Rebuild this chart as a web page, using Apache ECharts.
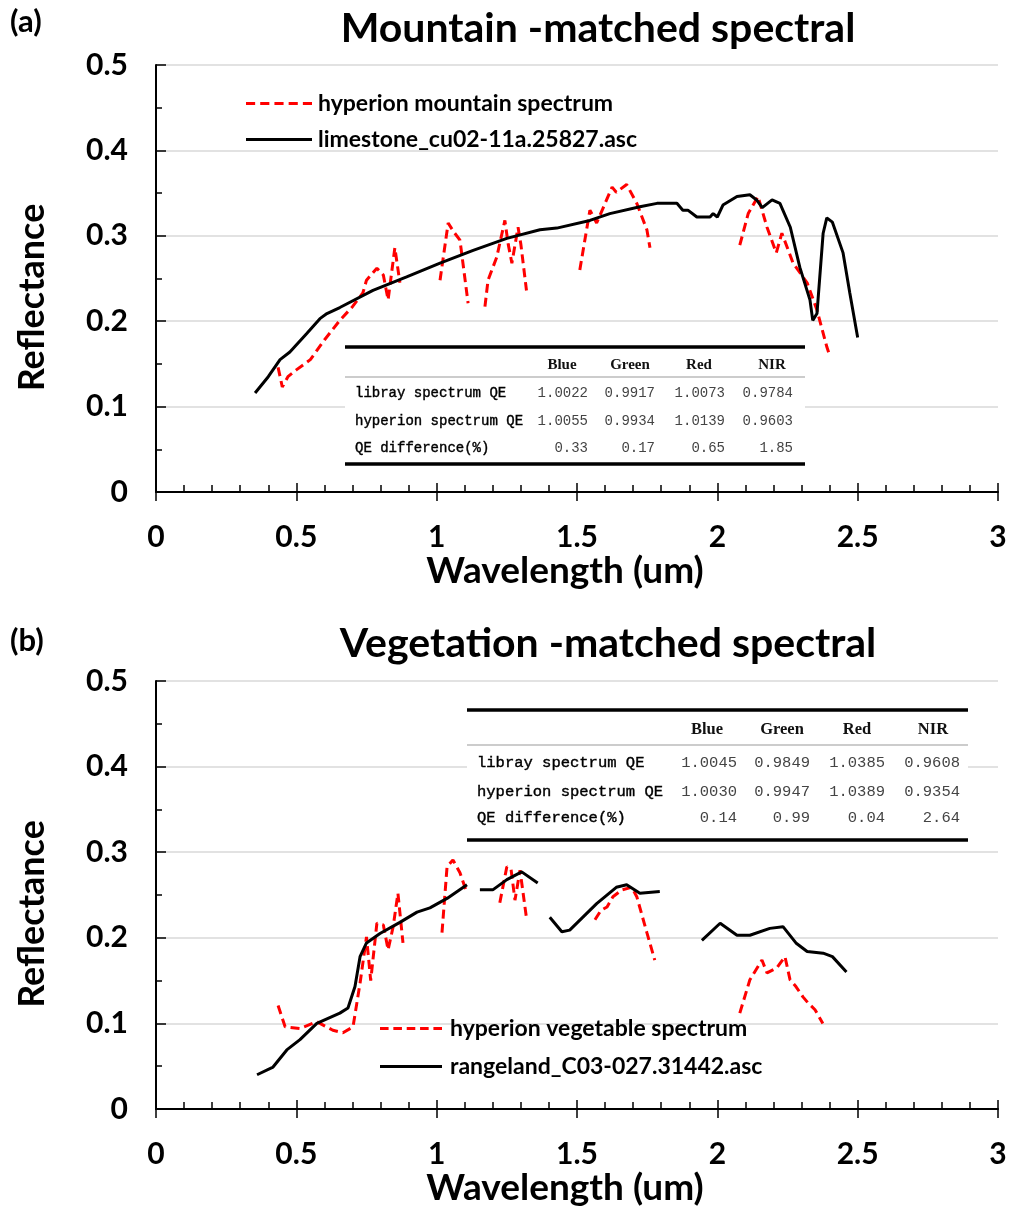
<!DOCTYPE html>
<html><head><meta charset="utf-8">
<script src="https://cdn.jsdelivr.net/npm/echarts@6/dist/echarts.min.js"></script>
<style>html,body{margin:0;padding:0;background:#fff}#c{width:1024px;height:1220px}</style>
</head><body><div id="c"></div>
<script>
// ---------- DATA ----------
// (a) hyperion mountain spectrum (null = gap between bands)
const mtHypW = [0.435,0.45,0.47,0.50,0.55,0.60,0.655,0.70,0.737,0.75,0.787,0.81,0.827,0.851,0.869,null,
  1.012,1.041,1.06,1.083,1.112,null,
  1.172,1.183,1.214,1.243,1.255,1.268,1.29,1.30,1.32,null,
  1.51,1.546,1.57,1.625,1.64,1.677,1.713,1.749,1.76,null,
  2.08,2.11,2.145,2.177,2.21,2.23,2.27,2.32,2.355,2.39,2.40];
const mtHypR = [0.146,0.123,0.135,0.143,0.155,0.178,0.201,0.217,0.233,0.248,0.262,0.254,0.225,0.286,0.245,null,
  0.248,0.315,0.305,0.295,0.221,null,
  0.217,0.248,0.275,0.318,0.29,0.268,0.31,0.29,0.236,null,
  0.26,0.33,0.315,0.357,0.351,0.36,0.338,0.307,0.286,null,
  0.289,0.326,0.346,0.31,0.28,0.303,0.268,0.245,0.213,0.17,0.16];
// (a) limestone_cu02-11a.25827.asc
const mtLibW = [0.353,0.40,0.442,0.477,0.538,0.584,0.609,0.655,0.773,0.893,1.012,1.13,1.25,1.368,1.428,1.546,1.617,1.724,1.785,1.856,1.877,1.895,1.927,1.974,1.985,2.0,2.02,2.07,2.116,2.14,2.16,2.195,2.223,2.26,2.294,2.33,2.34,2.355,2.377,2.39,2.41,2.448,2.472,2.5];
const mtLibR = [0.116,0.135,0.155,0.164,0.186,0.203,0.209,0.216,0.236,0.252,0.268,0.283,0.297,0.307,0.309,0.318,0.326,0.334,0.338,0.338,0.330,0.330,0.322,0.322,0.326,0.322,0.336,0.346,0.348,0.342,0.333,0.342,0.338,0.310,0.263,0.225,0.201,0.209,0.303,0.321,0.316,0.28,0.233,0.181];
// (b) hyperion vegetable spectrum
const vgHypW = [0.435,0.46,0.513,0.573,0.63,0.666,0.702,0.727,0.75,0.765,0.787,0.81,0.827,0.845,0.862,0.88,null,
  1.019,1.037,1.058,1.083,1.108,null,
  1.225,1.25,1.265,1.279,1.297,1.32,null,
  1.564,1.585,1.607,1.628,1.66,1.695,1.713,1.749,1.777,null,
  2.08,2.116,2.159,2.177,2.212,2.241,2.259,2.28,2.305,2.323,2.348,2.376];
const vgHypR = [0.121,0.096,0.094,0.102,0.092,0.089,0.096,0.147,0.201,0.15,0.217,0.215,0.186,0.213,0.252,0.194,null,
  0.206,0.283,0.291,0.276,0.252,null,
  0.241,0.283,0.28,0.244,0.279,0.223,null,
  0.221,0.232,0.236,0.248,0.256,0.259,0.248,0.206,0.174,null,
  0.112,0.151,0.174,0.159,0.165,0.178,0.151,0.143,0.131,0.124,0.116,0.1];
// (b) rangeland_C03-027.31442.asc
const vgLibW = [0.36,0.417,0.466,0.513,0.573,0.655,0.684,0.709,0.727,0.75,0.798,0.869,0.93,0.976,1.037,1.108,null,
  1.154,1.2,1.25,1.303,1.36,null,
  1.403,1.446,1.474,1.57,1.64,1.677,1.724,1.795,null,
  1.945,2.01,2.07,2.116,2.187,2.234,2.28,2.32,2.377,2.41,2.46];
const vgLibR = [0.04,0.049,0.069,0.081,0.100,0.112,0.118,0.143,0.178,0.194,0.205,0.218,0.230,0.235,0.246,0.262,null,
  0.256,0.256,0.268,0.277,0.264,null,
  0.224,0.207,0.209,0.240,0.259,0.262,0.252,0.254,null,
  0.197,0.217,0.203,0.203,0.211,0.213,0.194,0.184,0.182,0.178,0.16];
// tables
const tblCols = ['Blue','Green','Red','NIR'];
const tblRows = ['libray spectrum QE','hyperion spectrum QE','QE difference(%)'];
const tblA = [['1.0022','0.9917','1.0073','0.9784'],['1.0055','0.9934','1.0139','0.9603'],['0.33','0.17','0.65','1.85']];
const tblB = [['1.0045','0.9849','1.0385','0.9608'],['1.0030','0.9947','1.0389','0.9354'],['0.14','0.99','0.04','2.64']];
const xTicks = [0,0.5,1,1.5,2,2.5,3];
const yTicks = [0,0.1,0.2,0.3,0.4,0.5];

// ---------- BUILD ----------
function pairs(w,r){return w.map((x,i)=> x===null ? [null,'-'] : [x,r[i]]);}
const FONT = 'Lato';
const DASH_ICON = 'path://M0,0h9v3h-9z M14,0h9v3h-9z M28,0h9v3h-9z M42,0h9v3h-9z M56,0h9v3h-9z';
const SOLID_ICON = 'path://M0,0h65v3h-65z';
const grids = [{left:156,right:26,top:65,height:427},{left:156,right:26,top:681,height:428}];
function xAx(g){return {gridIndex:g,type:'value',min:0,max:3,interval:0.5,position:'bottom',
  name:'Wavelength (um)',nameLocation:'middle',nameGap:61,
  nameTextStyle:{fontFamily:FONT,fontWeight:'bold',fontSize:37,color:'#000',padding:[0,24,0,0]},
  axisLine:{show:true,lineStyle:{color:'#000',width:2}},
  axisTick:{show:true,inside:true,length:9,lineStyle:{color:'#000',width:1.5}},
  minorTick:{show:true,splitNumber:5,length:7,lineStyle:{color:'#000',width:1.5}},
  axisLabel:{fontFamily:FONT,fontWeight:'bold',fontSize:30,color:'#000',margin:30,
    formatter:v=> xTicks.indexOf(v)>=0 ? String(v) : ''},
  splitLine:{show:false}};}
function xAxOut(g){return {gridIndex:g,type:'value',min:0,max:3,interval:0.5,position:'bottom',offset:0,
  axisLine:{show:false},axisTick:{show:true,inside:false,length:9,lineStyle:{color:'#000',width:1.5}},
  axisLabel:{show:false},splitLine:{show:false}};}
function yAx(g){return {gridIndex:g,type:'value',min:0,max:0.5,interval:0.1,
  name:'Reflectance',nameLocation:'middle',nameGap:106,nameRotate:90,
  nameTextStyle:{fontFamily:FONT,fontWeight:'bold',fontSize:36,color:'#000',padding:[0,38,0,0]},
  axisLine:{show:true,lineStyle:{color:'#000',width:2}},
  axisTick:{show:true,inside:true,length:10,lineStyle:{color:'#000',width:1.5}},
  minorTick:{show:true,splitNumber:2,length:6,lineStyle:{color:'#000',width:1.5}},
  axisLabel:{fontFamily:FONT,fontWeight:'bold',fontSize:30,color:'#000',margin:28,
    formatter:v=> v===0 ? '0' : v.toFixed(1)},
  splitLine:{show:true,lineStyle:{color:'#d9d9d9',width:1.5}}};}
function redSeries(name,xi,yi,w,r){return {name,type:'line',xAxisIndex:xi,yAxisIndex:yi,data:pairs(w,r),
  showSymbol:false,symbol:'none',connectNulls:false,z:3,
  lineStyle:{color:'#ff0000',width:3,type:[9,5]},itemStyle:{color:'#ff0000'}};}
function blackSeries(name,xi,yi,w,r){return {name,type:'line',xAxisIndex:xi,yAxisIndex:yi,data:pairs(w,r),
  showSymbol:false,symbol:'none',connectNulls:false,z:4,
  lineStyle:{color:'#000',width:3},itemStyle:{color:'#000'}};}

function table(x0,x1,yTop,yHead,yThin,rowsY,yBot,labelX,numRight,headC,vals,fs){
  const els=[];
  els.push({type:'rect',shape:{x:x0,y:yTop,width:x1-x0,height:yBot-yTop},style:{fill:'#fff'},z:100});
  els.push({type:'line',shape:{x1:x0,y1:yTop,x2:x1,y2:yTop},style:{stroke:'#000',lineWidth:3.5},z:101});
  els.push({type:'line',shape:{x1:x0,y1:yThin,x2:x1,y2:yThin},style:{stroke:'#999',lineWidth:1.2},z:101});
  els.push({type:'line',shape:{x1:x0,y1:yBot,x2:x1,y2:yBot},style:{stroke:'#000',lineWidth:3.5},z:101});
  const f = fs+'px "Liberation Mono", monospace';
  tblCols.forEach((c,j)=>els.push({type:'text',z:102,style:{text:c,x:headC[j],y:yHead,font:'bold '+(fs+1)+'px "Liberation Serif", serif',fill:'#111',align:'center',verticalAlign:'middle'}}));
  tblRows.forEach((rn,i)=>{
    els.push({type:'text',z:102,style:{text:rn,x:labelX,y:rowsY[i],font:f,fill:'#000',stroke:'#000',lineWidth:0.4,align:'left',verticalAlign:'middle'}});
    vals[i].forEach((v,j)=>els.push({type:'text',z:102,style:{text:v,x:numRight[j],y:rowsY[i],font:f,fill:'#444',align:'right',verticalAlign:'middle'}}));
  });
  return els;
}

const graphics = [].concat(
  table(345,805,347,365,377,[393,421,448],464,355,[588,655,725,793],[562,630,699,772],tblA,14),
  table(467,968,710,730,745,[763,792,818],840,477,[737,810,885,960],[707,782,857,933],tblB,15.5),
  [{type:'text',z:102,style:{text:'(a)',x:10,y:22,font:'bold 31px Lato',fill:'#000',verticalAlign:'middle'}},
   {type:'text',z:102,style:{text:'(b)',x:10,y:641,font:'bold 31px Lato',fill:'#000',verticalAlign:'middle'}},
   {type:'text',z:102,style:{text:'Mountain -matched spectral',x:598,y:29,font:'bold 41px Lato',fill:'#000',align:'center',verticalAlign:'middle'}},
   {type:'text',z:102,style:{text:'Vegetation -matched spectral',x:608,y:644,font:'bold 41px Lato',fill:'#000',align:'center',verticalAlign:'middle'}}]
);

const chart = echarts.init(document.getElementById('c'),null,{renderer:'canvas'});
chart.setOption({
  animation:false,
  backgroundColor:'#fff',
  grid:grids,
  xAxis:[xAx(0),xAx(1),xAxOut(0),xAxOut(1)],
  yAxis:[yAx(0),yAx(1)],
  legend:[
    {orient:'vertical',left:246,top:92,padding:0,itemWidth:66,itemHeight:3,itemGap:13,symbolKeepAspect:false,
     data:[{name:'hyperion mountain spectrum',icon:DASH_ICON},{name:'limestone_cu02-11a.25827.asc',icon:SOLID_ICON}],
     textStyle:{fontFamily:FONT,fontWeight:'bold',fontSize:23,color:'#000',padding:[0,0,0,1]}},
    {orient:'vertical',left:380,top:1017,padding:0,itemWidth:62,itemHeight:3,itemGap:15,symbolKeepAspect:false,
     data:[{name:'hyperion vegetable spectrum',icon:DASH_ICON},{name:'rangeland_C03-027.31442.asc',icon:SOLID_ICON}],
     textStyle:{fontFamily:FONT,fontWeight:'bold',fontSize:23,color:'#000',padding:[0,0,0,3]}}
  ],
  series:[
    redSeries('hyperion mountain spectrum',0,0,mtHypW,mtHypR),
    blackSeries('limestone_cu02-11a.25827.asc',0,0,mtLibW,mtLibR),
    redSeries('hyperion vegetable spectrum',1,1,vgHypW,vgHypR),
    blackSeries('rangeland_C03-027.31442.asc',1,1,vgLibW,vgLibR)
  ],
  graphic:graphics
});
</script></body></html>
